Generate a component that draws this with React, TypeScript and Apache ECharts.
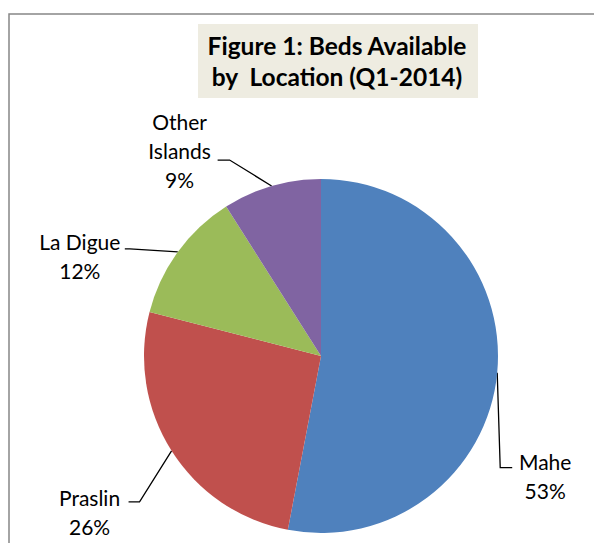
import React, { useEffect, useRef } from "react";
import * as echarts from "echarts";

const categories = ["Mahe", "Praslin", "La Digue", "Other Islands"];
const values = [53, 26, 12, 9];
const colors = ["#4F81BD", "#C0504D", "#9BBB59", "#8064A2"];
const titleLines = ["Figure 1: Beds Available", "by  Location (Q1-2014)"];

// label offsets relative to the leader-line anchor on the pie edge
// [bend dx, bend dy, end dx, label center dx, label center dy]
const labelOffsets = [
  [3, 95, 15, 48, 103],
  [-32, 51, -43, -82, 61],
  [-48, -3, -53, -98, 4],
  [-42, -26, -54, -92, -36],
];

const FONT = "Lato, 'Open Sans', sans-serif";

export default function App() {
  const ref = useRef<HTMLDivElement>(null);
  useEffect(() => {
    if (!ref.current) return;
    const chart = echarts.init(ref.current, null, { renderer: "svg" });
    chart.setOption({
      animation: false,
      backgroundColor: "#ffffff",
      graphic: [
        {
          type: "rect",
          shape: { x: 9, y: 14, width: 620, height: 600 },
          style: { fill: "none", stroke: "#878787", lineWidth: 1.5 },
          silent: true,
        },
        {
          type: "rect",
          shape: { x: 198, y: 24, width: 280, height: 74 },
          style: { fill: "#EEECE1" },
          silent: true,
        },
        {
          type: "text",
          x: 337,
          y: 61,
          style: {
            text: titleLines.join("\n"),
            fill: "#000",
            font: `bold 24.5px ${FONT}`,
            lineHeight: 31,
            align: "center",
            verticalAlign: "middle",
          },
          silent: true,
        },
      ],
      series: [
        {
          type: "pie",
          center: [321, 356],
          radius: 177,
          startAngle: 90,
          clockwise: true,
          data: categories.map((name, i) => ({
            name,
            value: values[i],
            itemStyle: { color: colors[i] },
          })),
          itemStyle: { borderWidth: 0 },
          label: {
            show: true,
            position: "outside",
            formatter: (p: any) =>
              (p.name.length > 9 ? p.name.replace(" ", "\n") : p.name) +
              "\n" +
              Math.round(p.percent) +
              "%",
            fontFamily: FONT,
            fontSize: 21,
            lineHeight: 29,
            color: "#000",
            align: "center",
            overflow: "none",
          },
          edgeDistance: 0,
          labelLine: {
            show: true,
            lineStyle: { color: "#000", width: 1.3 },
          },
          labelLayout: (params: any) => {
            const o = labelOffsets[params.dataIndex];
            const p0 = params.labelLinePoints
              ? params.labelLinePoints[0]
              : [0, 0];
            return {
              x: p0[0] + o[3],
              y: p0[1] + o[4],
              align: "center",
              verticalAlign: "middle",
              width: 120,
              labelLinePoints: [
                [p0[0], p0[1]],
                [p0[0] + o[0], p0[1] + o[1]],
                [p0[0] + o[2], p0[1] + o[1]],
              ],
            };
          },
          emphasis: { disabled: true },
        },
      ],
    });
    return () => chart.dispose();
  }, []);
  return (
    <div
      ref={ref}
      style={{ position: "fixed", left: 0, top: 0, width: 594, height: 543 }}
    />
  );
}
